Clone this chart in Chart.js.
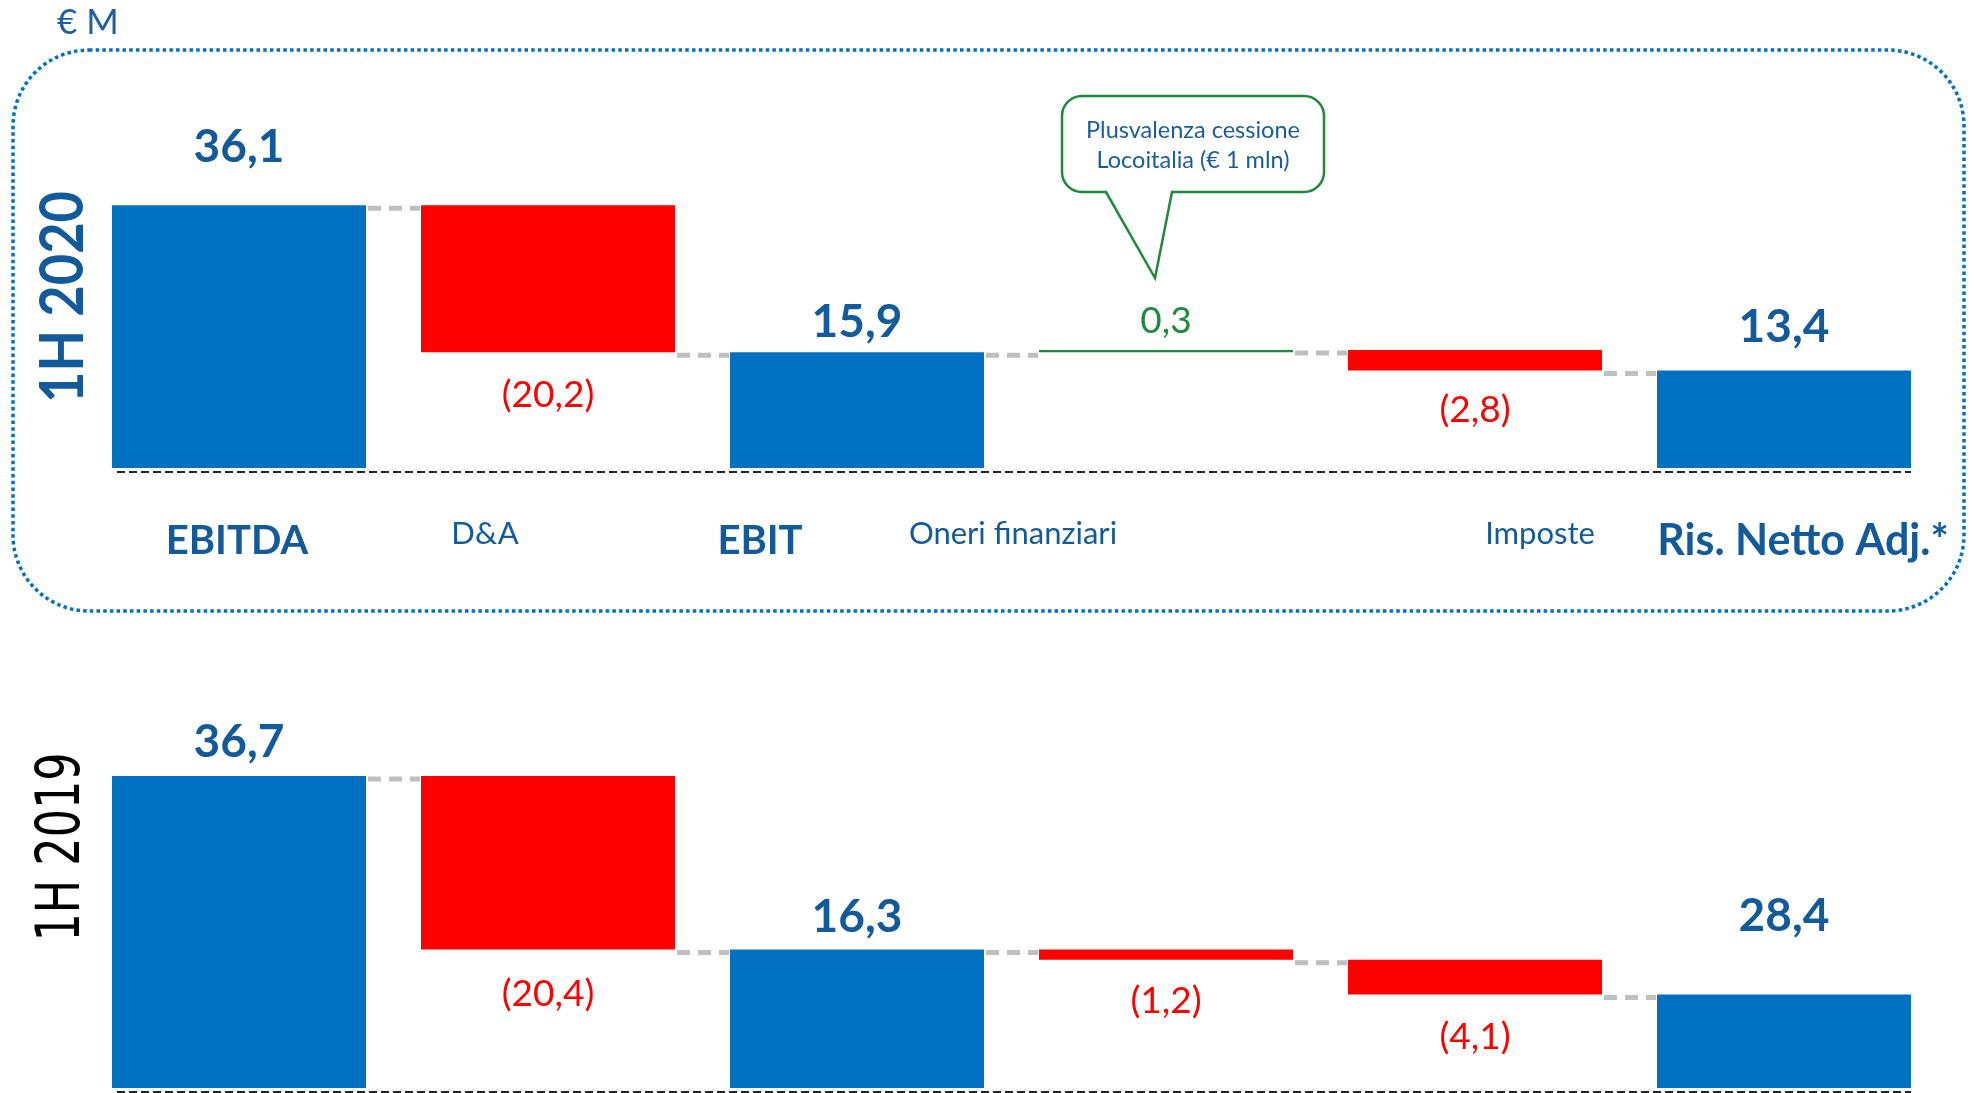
<!DOCTYPE html>
<html>
<head>
<meta charset="utf-8">
<script src="https://cdn.jsdelivr.net/npm/chart.js@4.4.1/dist/chart.umd.min.js"></script>
<style>
  html, body { margin: 0; padding: 0; background: #fff; }
  #wrap { position: relative; width: 1974px; height: 1093px; overflow: hidden; }
  .panel { position: absolute; left: 0; width: 1974px; }
</style>
</head>
<body>
<div id="wrap">
  <div class="panel" style="top:0;height:620px"><canvas id="c2020"></canvas></div>
  <div class="panel" style="top:620px;height:473px"><canvas id="c2019"></canvas></div>
</div>
<script>
// categories and series
const categories = ['EBITDA', 'D&A', 'EBIT', 'Oneri finanziari', 'Imposte', 'Ris. Netto Adj.*'];
const kinds = ['total', 'delta', 'total', 'delta', 'delta', 'total'];
const values2020 = [36.1, -20.2, 15.9, 0.3, -2.8, 13.4];
const values2019 = [36.7, -20.4, 16.3, -1.2, -4.1, 11.0];
// labels as printed on the slide
const valueLabels2020 = ['36,1', '(20,2)', '15,9', '0,3', '(2,8)', '13,4'];
const valueLabels2019 = ['36,7', '(20,4)', '16,3', '(1,2)', '(4,1)', '28,4'];
const calloutLines = ['Plusvalenza cessione', 'Locoitalia (€ 1 mln)'];

const BLUE = '#0070C0';
const RED = '#FF0000';
const GREEN = '#1F8A3B';
const TEXT_BLUE = '#125A9A';

// floating bars for a waterfall: totals start at 0, deltas start at running level
function toFloating(values) {
  let level = 0;
  return values.map((v, i) => {
    if (kinds[i] === 'total') { level = v; return [0, v]; }
    const from = level;
    level = +(level + v).toFixed(2);
    return [from, level];
  });
}

function barColors(values) {
  return values.map((v, i) => kinds[i] === 'total' ? BLUE : (v < 0 ? RED : GREEN));
}

function roundRect(ctx, l, t, r, b, rad) {
  ctx.beginPath();
  ctx.moveTo(l + rad, t);
  ctx.lineTo(r - rad, t);
  ctx.arcTo(r, t, r, t + rad, rad);
  ctx.lineTo(r, b - rad);
  ctx.arcTo(r, b, r - rad, b, rad);
  ctx.lineTo(l + rad, b);
  ctx.arcTo(l, b, l, b - rad, rad);
  ctx.lineTo(l, t + rad);
  ctx.arcTo(l, t, l + rad, t, rad);
  ctx.closePath();
}

// draw rotated text squeezed to a given length
function rotatedTitle(ctx, text, font, color, cx, cy, len) {
  ctx.save();
  ctx.font = font;
  const w = ctx.measureText(text).width;
  ctx.translate(cx, cy);
  ctx.rotate(-Math.PI / 2);
  ctx.scale(len / w, 1);
  ctx.fillStyle = color;
  ctx.textAlign = 'center';
  ctx.textBaseline = 'middle';
  ctx.fillText(text, 0, 0);
  ctx.restore();
}

const waterfallPlugin = {
  id: 'waterfall',
  afterDatasetsDraw(chart, args, opts) {
    const ctx = chart.ctx;
    const yScale = chart.scales.y;
    const data = chart.data.datasets[0].data;
    const bars = chart.getDatasetMeta(0).data;
    const n = bars.length;
    ctx.save();

    // grey connectors at running level
    ctx.strokeStyle = '#BFBFBF';
    ctx.lineWidth = 5;
    ctx.setLineDash([13, 8]);
    for (let i = 0; i < n - 1; i++) {
      const py = yScale.getPixelForValue(data[i][1]) + 3;
      const x0 = bars[i].x + bars[i].width / 2 + 2;
      const x1 = bars[i + 1].x - bars[i + 1].width / 2 - 1;
      ctx.beginPath();
      ctx.moveTo(x0, py);
      ctx.lineTo(x1, py);
      ctx.stroke();
    }

    // dashed baseline
    const by = yScale.getPixelForValue(0) + 4;
    ctx.strokeStyle = '#222';
    ctx.lineWidth = 2;
    ctx.setLineDash([8, 4]);
    ctx.beginPath();
    ctx.moveTo(bars[0].x - bars[0].width / 2 + 5, by);
    ctx.lineTo(bars[n - 1].x + bars[n - 1].width / 2, by);
    ctx.stroke();
    ctx.setLineDash([]);

    // value labels
    ctx.textAlign = 'center';
    ctx.textBaseline = 'middle';
    bars.forEach((bar, i) => {
      const top = Math.min(bar.y, bar.base);
      const bottom = Math.max(bar.y, bar.base);
      const v = opts.values[i];
      let ly;
      if (kinds[i] === 'total') {
        ctx.font = 'bold 46px Lato';
        ctx.fillStyle = TEXT_BLUE;
        ly = top - opts.gaps[i];
      } else if (v < 0) {
        ctx.font = '37px Lato';
        ctx.fillStyle = RED;
        ly = bottom + opts.gaps[i];
      } else {
        ctx.font = '37px Lato';
        ctx.fillStyle = GREEN;
        ly = top - opts.gaps[i];
      }
      ctx.fillText(opts.labels[i], bar.x, ly);
    });

    // category labels
    if (opts.showCategories) {
      const base = yScale.getPixelForValue(0);
      bars.forEach((bar, i) => {
        const bold = kinds[i] === 'total';
        ctx.font = bold ? (i === n - 1 ? 'bold 43px Lato' : 'bold 40px Lato') : '31px Lato';
        ctx.fillStyle = TEXT_BLUE;
        ctx.fillText(chart.data.labels[i], bar.x + opts.catShift[i], base + (bold ? 73 : 66));
      });
    }
    ctx.restore();
  }
};

const decor2020 = {
  id: 'decor2020',
  afterDraw(chart) {
    const ctx = chart.ctx;
    ctx.save();
    // dotted frame
    ctx.strokeStyle = BLUE;
    ctx.lineWidth = 3.5;
    ctx.setLineDash([3.5, 3.2]);
    roundRect(ctx, 13, 50, 1964, 611, 76);
    ctx.stroke();
    ctx.setLineDash([]);

    // unit
    ctx.font = '35px Lato';
    ctx.fillStyle = '#1F5FA0';
    ctx.textAlign = 'left';
    ctx.textBaseline = 'middle';
    ctx.fillText('€ M', 57, 23);

    rotatedTitle(ctx, '1H 2020', 'bold 61px Lato', TEXT_BLUE, 63, 297, 212);

    // callout pointing at the Oneri finanziari step
    const bar = chart.getDatasetMeta(0).data[3];
    const tipX = bar.x - 11;
    const tipY = Math.min(bar.y, bar.base) - 72;
    const L = tipX - 93, R = tipX + 169, T = tipY - 182, B = tipY - 86, r = 20;
    ctx.beginPath();
    ctx.moveTo(L + r, T);
    ctx.lineTo(R - r, T);
    ctx.arcTo(R, T, R, T + r, r);
    ctx.lineTo(R, B - r);
    ctx.arcTo(R, B, R - r, B, r);
    ctx.lineTo(tipX + 17, B);
    ctx.lineTo(tipX, tipY);
    ctx.lineTo(tipX - 49, B);
    ctx.lineTo(L + r, B);
    ctx.arcTo(L, B, L, B - r, r);
    ctx.lineTo(L, T + r);
    ctx.arcTo(L, T, L + r, T, r);
    ctx.closePath();
    ctx.fillStyle = '#fff';
    ctx.fill();
    ctx.strokeStyle = GREEN;
    ctx.lineWidth = 2.5;
    ctx.stroke();
    ctx.font = '23.5px Lato';
    ctx.fillStyle = '#1A5CA0';
    ctx.textAlign = 'center';
    ctx.fillText(calloutLines[0], (L + R) / 2, T + 34);
    ctx.fillText(calloutLines[1], (L + R) / 2, T + 64);
    ctx.restore();
  }
};

const decor2019 = {
  id: 'decor2019',
  afterDraw(chart) {
    rotatedTitle(chart.ctx, '1H 2019', '60px "DejaVu Sans"', '#000', 63, 227, 189);
  }
};

function makeChart(id, values, extra) {
  return new Chart(document.getElementById(id), {
    type: 'bar',
    data: {
      labels: categories,
      datasets: [{
        data: toFloating(values),
        backgroundColor: barColors(values),
        borderWidth: 0,
        categoryPercentage: 1,
        barPercentage: 0.822
      }]
    },
    options: {
      responsive: true,
      maintainAspectRatio: false,
      animation: false,
      layout: { padding: extra.padding },
      plugins: {
        legend: { display: false },
        tooltip: { enabled: false },
        waterfall: extra.waterfall
      },
      scales: {
        x: { display: false },
        y: { display: false, min: 0, max: 50 }
      }
    },
    plugins: [waterfallPlugin, extra.decor]
  });
}

function start() {
  makeChart('c2020', values2020, {
    padding: { left: 84.5, right: 35.5, top: 104, bottom: 152 },
    decor: decor2020,
    waterfall: {
      values: values2020,
      labels: valueLabels2020,
      gaps: [58, 43, 30, 29, 40, 43],
      showCategories: true,
      catShift: [-2, -63, -97, -153, 65, 19]
    }
  });
  makeChart('c2019', values2019, {
    padding: { left: 84.5, right: 35.5, top: 43, bottom: 5 },
    decor: decor2019,
    waterfall: {
      values: values2019,
      labels: valueLabels2019,
      gaps: [34, 45, 32, 41, 43, 78],
      showCategories: false
    }
  });
}

Promise.all([
  document.fonts.load('bold 46px Lato'),
  document.fonts.load('34px Lato'),
  document.fonts.load('60px "DejaVu Sans"')
]).then(start, start);
</script>
</body>
</html>
